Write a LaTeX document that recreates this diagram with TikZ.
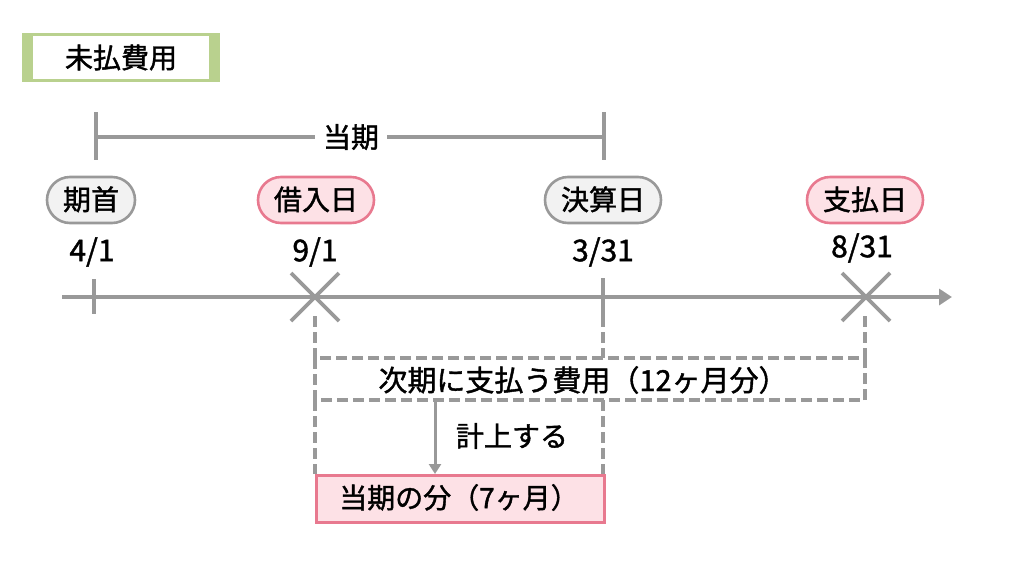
\documentclass[tikz,border=0pt]{standalone}
\usepackage{fontspec}
\setmainfont{Noto Sans CJK JP}[FakeBold=1.4]
\usetikzlibrary{arrows.meta}
\definecolor{lgray}{HTML}{999999}
\definecolor{pinkb}{HTML}{E8798F}
\definecolor{pinkf}{HTML}{FDE1E6}
\definecolor{grayf}{HTML}{F2F2F2}
\definecolor{greenb}{HTML}{B9D18E}
\tikzset{
  txt/.style={font=\fontsize{28}{32}\selectfont, inner sep=0pt},
  dtxt/.style={font=\fontsize{30}{34}\selectfont, inner sep=0pt},
  pillg/.style={txt, draw=lgray, fill=grayf, line width=2.6pt, rounded corners=23pt, minimum height=46pt, text height=22pt, text depth=2pt, inner xsep=16pt},
  pillp/.style={txt, draw=pinkb, fill=pinkf, line width=2.6pt, rounded corners=23pt, minimum height=46pt, text height=22pt, text depth=2pt, inner xsep=16pt},
  gline/.style={draw=lgray, line width=4.4pt},
  dline/.style={draw=lgray, line width=3.8pt, dash pattern=on 11pt off 5pt},
}
\begin{document}
\begin{tikzpicture}[x=1pt,y=-1pt]
\useasboundingbox (0,0) rectangle (1024,576);
% title
\fill[greenb] (22,33) rectangle (220,82);
\fill[white] (33,36) rectangle (209,79);
\node[txt] (title) at (121,57.5) {未払費用};
% bracket
\coordinate (bl1) at (96,112); \coordinate (bl2) at (96,160);
\coordinate (br1) at (604,112); \coordinate (br2) at (604,160);
\coordinate (bm1) at (96,137); \coordinate (bm2) at (604,137);
\draw[gline] (bl1) -- (bl2);
\draw[gline] (br1) -- (br2);
\draw[gline] (bm1) -- (bm2);
\node[txt, fill=white, inner xsep=8pt, inner ysep=4pt] (touki) at (351,137) {当期};
% pills
\node[pillg] (kishu) at (91,200) {期首};
\node[pillp] (kariire) at (316,200) {借入日};
\node[pillg] (kessan) at (603,200) {決算日};
\node[pillp] (shiharai) at (865,200) {支払日};
% dates
\node[dtxt] (d1) at (92,252) {4/1};
\node[dtxt] (d2) at (315,252) {9/1};
\node[dtxt] (d3) at (603,252) {3/31};
\node[dtxt] (d4) at (862,248) {8/31};
% axis
\coordinate (a0) at (62,297); \coordinate (a1) at (952,297);
\draw[gline, -{Triangle[length=13pt,width=16pt]}] (a0) -- (a1);
\coordinate (t1a) at (94,279); \coordinate (t1b) at (94,314);
\draw[gline] (t1a) -- (t1b);
\coordinate (t3a) at (603,278); \coordinate (t3b) at (603,316);
\draw[gline] (t3a) -- (t3b);
% crosses
\coordinate (c1) at (315,297); \coordinate (c2) at (866,297);
\foreach \c in {c1,c2}{
  \draw[gline, line width=3.6pt] ([shift={(-24,-24)}]\c) -- ([shift={(24,24)}]\c);
  \draw[gline, line width=3.6pt] ([shift={(-24,24)}]\c) -- ([shift={(24,-24)}]\c);
}
% dashed
\coordinate (v1a) at (315,316); \coordinate (v1b) at (315,358);
\coordinate (v3a) at (603,316); \coordinate (v3b) at (603,358);
\coordinate (v4a) at (865,316); \coordinate (v4b) at (865,358);
\draw[dline] (v1a) -- (v1b);
\draw[dline] (v3a) -- (v3b);
\draw[dline] (v4a) -- (v4b);
\coordinate (r1) at (315,358); \coordinate (r2) at (865,400);
\draw[dline] (r1) rectangle (r2);
\node[txt, font=\fontsize{29}{33}\selectfont] (jiki) at (583,380) {次期に支払う費用（12ヶ月分）};
\coordinate (w1a) at (315,400); \coordinate (w1b) at (315,474);
\coordinate (w3a) at (603,400); \coordinate (w3b) at (603,474);
\draw[dline] (w1a) -- (w1b);
\draw[dline] (w3a) -- (w3b);
% pink box
\node[txt, draw=pinkb, fill=pinkf, line width=2.6pt, minimum width=288pt, minimum height=47pt, anchor=north west] (touki2) at (315,474) {};
\node[txt] (tokilbl) at (459,497.5) {当期の分（7ヶ月）};
% arrow
\coordinate (ar1) at (435,400);
\draw[draw=lgray, line width=3pt, -{Triangle[length=10pt,width=12pt]}] (ar1) -- (ar1 |- touki2.north);
\node[txt] (keijo) at (512,436) {計上する};
\end{tikzpicture}
\end{document}
